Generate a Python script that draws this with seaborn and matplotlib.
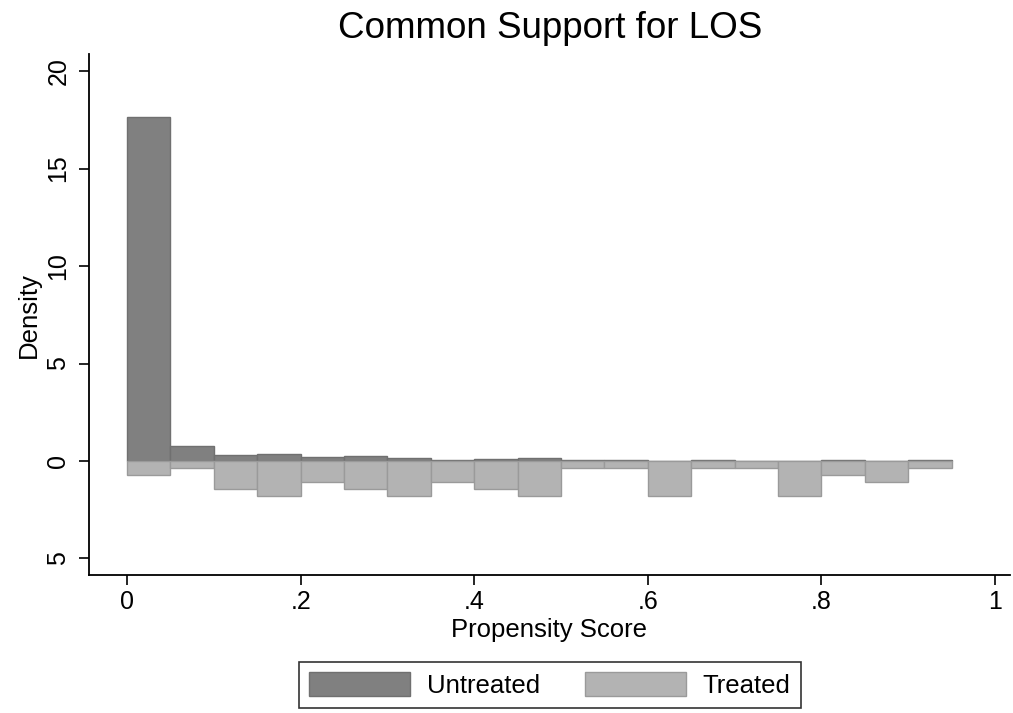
import numpy as np
import pandas as pd
import matplotlib
matplotlib.use("Agg")
import matplotlib.pyplot as plt
import seaborn as sns

# bin edges (width .05) and densities
bin_left = [0.00, 0.05, 0.10, 0.15, 0.20, 0.25, 0.30, 0.35, 0.40, 0.45,
            0.50, 0.55, 0.60, 0.65, 0.70, 0.75, 0.80, 0.85, 0.90]
untreated_density = [17.64, 0.77, 0.32, 0.34, 0.22, 0.26, 0.15, 0.03, 0.12, 0.17,
                     0.04, 0.03, 0.0, 0.07, 0.0, 0.0, 0.07, 0.0, 0.07]
treated_density = [0.71, 0.36, 1.43, 1.79, 1.07, 1.43, 1.79, 1.07, 1.43, 1.79,
                   0.36, 0.36, 1.79, 0.36, 0.36, 1.79, 0.71, 1.07, 0.36]
x_ticks = [0, 0.2, 0.4, 0.6, 0.8, 1]
x_ticklabels = ["0", ".2", ".4", ".6", ".8", "1"]
y_ticks = [-5, 0, 5, 10, 15, 20]

width = 0.05
df = pd.DataFrame({
    "mid": np.array(bin_left) + width / 2,
    "untreated": untreated_density,
    "treated": -np.array(treated_density),   # mirrored below zero
})

sns.set_style("white")
plt.rcParams["font.family"] = ["Liberation Sans", "DejaVu Sans"]
plt.rcParams.update({"text.color": "black", "axes.labelcolor": "black",
                     "xtick.color": "black", "ytick.color": "black"})

fig = plt.figure(figsize=(10.13, 7.13), dpi=100)
ax = fig.add_axes([0.0879, 0.1935, 0.909, 0.7305])

hist_kw = dict(x="mid", binwidth=width, binrange=(bin_left[0], bin_left[-1] + width),
               stat="count", alpha=1, linewidth=1.0, ax=ax)
sns.histplot(data=df, weights="untreated", color="#808080", edgecolor="#707070",
             label="Untreated", **hist_kw)
sns.histplot(data=df, weights="treated", color="#b3b3b3", edgecolor="#9a9a9a",
             label="Treated", **hist_kw)

ax.set_xlim(-0.0438, 1.017)
ax.set_ylim(-5.85, 20.87)
ax.set_xticks(x_ticks)
ax.set_xticklabels(x_ticklabels, fontsize=18)
ax.set_yticks(y_ticks)
ax.set_yticklabels([str(abs(v)) for v in y_ticks], fontsize=18, rotation=90, va="center")
ax.tick_params(axis="both", direction="out", length=7.5, width=1.2,
               left=True, bottom=True)
ax.tick_params(axis="x", pad=3.5)
ax.tick_params(axis="y", pad=6)
ax.set_xlabel("Propensity Score", fontsize=18.5, labelpad=3)
ax.set_ylabel("Density", fontsize=18.5, labelpad=4)
ax.spines[["top", "right"]].set_visible(False)
for s in ["left", "bottom"]:
    ax.spines[s].set_color("black")
    ax.spines[s].set_linewidth(1.3)

fig.text(550 / 1013, 1 - 29 / 713, "Common Support for LOS", fontsize=26.5,
         ha="center", va="center")

handles, labels = ax.get_legend_handles_labels()
leg = fig.legend(handles, labels, loc="center", bbox_to_anchor=(550 / 1013, 1 - 685 / 713),
                 ncol=2, fontsize=18.5, frameon=True, fancybox=False, edgecolor="black",
                 handlelength=3.93, handleheight=1.05, columnspacing=1.75, handletextpad=0.65,
                 borderpad=0.4)
leg.get_frame().set_linewidth(1.2)

fig.savefig("out.png", dpi=100)
